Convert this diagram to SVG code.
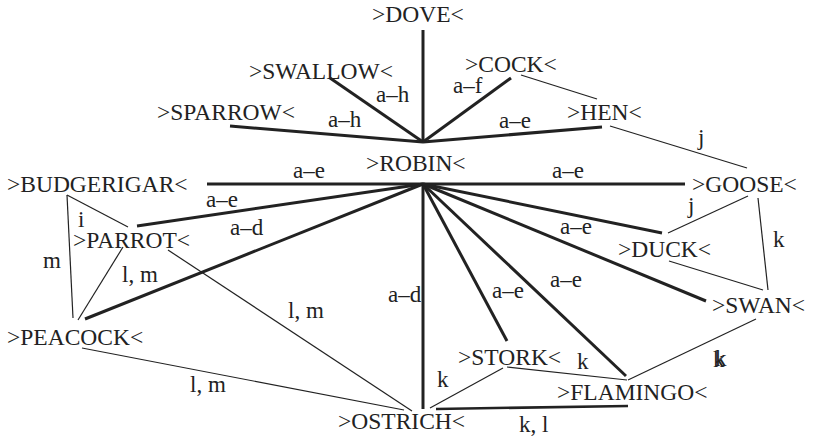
<svg xmlns="http://www.w3.org/2000/svg" width="813" height="441" viewBox="0 0 813 441">
<style>
text{font-family:"Liberation Serif","Times New Roman",serif;font-size:23.5px;fill:#222}
.lb{font-size:23px}
.t{stroke:#222;stroke-width:3;fill:none;stroke-linecap:butt}
.n{stroke:#222;stroke-width:1.2;fill:none}
</style>
<rect width="813" height="441" fill="#fff"/>
<g id="connectors">
<line class="t" x1="423" y1="30" x2="423" y2="142"/>
<line class="t" x1="330" y1="78" x2="423" y2="142"/>
<line class="t" x1="230" y1="126" x2="423" y2="142"/>
<line class="t" x1="511" y1="78" x2="423" y2="142"/>
<line class="t" x1="602" y1="127" x2="423" y2="142"/>
<line class="t" x1="207" y1="184" x2="423" y2="184"/>
<line class="t" x1="685" y1="184" x2="423" y2="184"/>
<line class="t" x1="137" y1="226" x2="423" y2="184"/>
<line class="t" x1="85" y1="319" x2="423" y2="184"/>
<line class="t" x1="423" y1="409" x2="423" y2="184"/>
<line class="t" x1="507" y1="341" x2="423" y2="184"/>
<line class="t" x1="626" y1="376" x2="423" y2="184"/>
<line class="t" x1="706" y1="301" x2="423" y2="184"/>
<line class="t" x1="662" y1="233" x2="423" y2="184"/>
<line class="t" style="stroke-width:2.5" x1="436" y1="409" x2="628" y2="406"/>
<line class="n" x1="521" y1="75" x2="597" y2="99"/>
<line class="n" x1="610" y1="126" x2="747" y2="168"/>
<line class="n" x1="748" y1="196" x2="668" y2="233"/>
<line class="n" x1="758" y1="198" x2="768" y2="290"/>
<line class="n" x1="669" y1="261" x2="763" y2="290"/>
<line class="n" x1="756" y1="319" x2="628" y2="380"/>
<line class="n" x1="507" y1="367" x2="627" y2="380"/>
<line class="n" x1="503" y1="368" x2="430" y2="408"/>
<line class="n" x1="67" y1="195" x2="128" y2="227"/>
<line class="n" x1="67" y1="195" x2="73" y2="318"/>
<line class="n" x1="123" y1="247" x2="78" y2="320"/>
<line class="n" x1="168" y1="250" x2="412" y2="411"/>
<line class="n" x1="82" y1="348" x2="404" y2="410"/>
</g>
<g id="labels">
<text class="lb" x="376" y="102">a–h</text>
<text class="lb" x="328" y="127">a–h</text>
<text class="lb" x="453" y="93">a–f</text>
<text class="lb" x="499" y="128">a–e</text>
<text class="lb" x="698" y="145">j</text>
<text class="lb" x="293" y="178">a–e</text>
<text class="lb" x="552" y="178">a–e</text>
<text class="lb" x="206" y="207">a–e</text>
<text class="lb" x="78" y="227">i</text>
<text class="lb" x="230" y="235">a–d</text>
<text class="lb" x="43" y="268">m</text>
<text class="lb" x="122" y="282">l, m</text>
<text class="lb" x="288" y="318">l, m</text>
<text class="lb" x="388" y="302">a–d</text>
<text class="lb" x="190" y="392">l, m</text>
<text class="lb" x="688" y="213">j</text>
<text class="lb" x="773" y="247">k</text>
<text class="lb" x="560" y="234">a–e</text>
<text class="lb" x="550" y="287">a–e</text>
<text class="lb" x="492" y="298">a–e</text>
<text class="lb" x="577" y="369">k</text>
<text class="lb" x="713" y="367">k</text>
<text class="lb" x="715" y="366">k</text>
<text class="lb" x="437" y="387">k</text>
<text class="lb" x="519" y="432">k, l</text>
</g>
<g id="dove"><text x="372" y="22">&gt;DOVE&lt;</text></g>
<g id="swallow"><text x="249" y="79">&gt;SWALLOW&lt;</text></g>
<g id="sparrow"><text x="157" y="120">&gt;SPARROW&lt;</text></g>
<g id="cock"><text x="465" y="72">&gt;COCK&lt;</text></g>
<g id="hen"><text x="567" y="120">&gt;HEN&lt;</text></g>
<g id="robin"><text x="366" y="171">&gt;ROBIN&lt;</text></g>
<g id="budgerigar"><text x="7" y="192">&gt;BUDGERIGAR&lt;</text></g>
<g id="goose"><text x="692" y="192">&gt;GOOSE&lt;</text></g>
<g id="parrot"><text x="73" y="248">&gt;PARROT&lt;</text></g>
<g id="peacock"><text x="7" y="345">&gt;PEACOCK&lt;</text></g>
<g id="ostrich"><text x="338" y="429">&gt;OSTRICH&lt;</text></g>
<g id="duck"><text x="618" y="257">&gt;DUCK&lt;</text></g>
<g id="swan"><text x="712" y="313">&gt;SWAN&lt;</text></g>
<g id="stork"><text x="458" y="365">&gt;STORK&lt;</text></g>
<g id="flamingo"><text x="557" y="400">&gt;FLAMINGO&lt;</text></g>
</svg>
